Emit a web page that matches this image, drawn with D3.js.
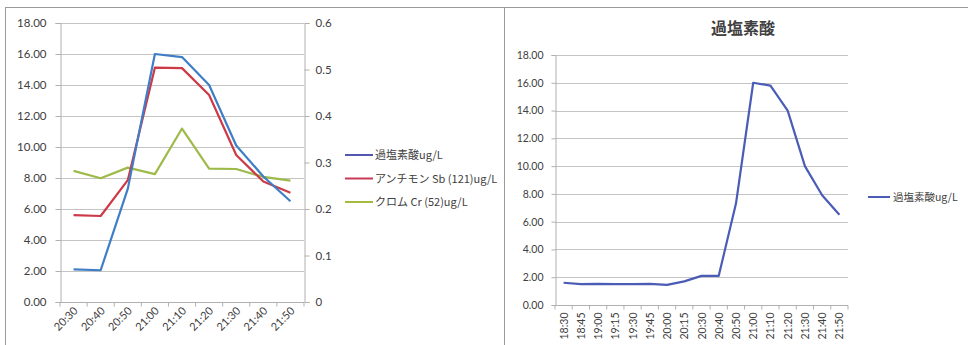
<!DOCTYPE html>
<html>
<head>
<meta charset="utf-8">
<script src="https://cdn.jsdelivr.net/npm/d3@7/dist/d3.min.js"></script>
<style>
  html, body { margin: 0; padding: 0; background: #ffffff; }
  svg { display: block; }
  text { font-family: Lato, "Noto Sans CJK JP", sans-serif; fill: #404040; }
  .cjk { font-family: "Noto Sans CJK JP", Lato, sans-serif; }
</style>
</head>
<body>
<svg id="chart" width="968" height="345"></svg>
<script>
// ---- data ----
// Panel A: three analytes, 20:30 – 21:50
const timesA = ["20:30", "20:40", "20:50", "21:00", "21:10", "21:20", "21:30", "21:40", "21:50"];
const perchlorateA = [2.1, 2.05, 7.3, 16.0, 15.8, 14.0, 10.1, 8.1, 6.5];          // left axis
const antimonyA = [0.187, 0.185, 0.262, 0.504, 0.503, 0.445, 0.316, 0.259, 0.235]; // right axis
const chromiumA = [0.282, 0.266, 0.289, 0.275, 0.373, 0.287, 0.286, 0.269, 0.261];  // right axis
const leftTicksA = [0, 2, 4, 6, 8, 10, 12, 14, 16, 18];
const rightTicksA = [0, 0.1, 0.2, 0.3, 0.4, 0.5, 0.6];
const seriesNamesA = ["過塩素酸ug/L", "アンチモン Sb (121)ug/L", "クロム Cr (52)ug/L"];

// Panel B: perchlorate only, 18:30 – 21:50
const timesB = ["18:30", "18:45", "19:00", "19:15", "19:30", "19:45", "20:00", "20:15", "20:30",
                "20:40", "20:50", "21:00", "21:10", "21:20", "21:30", "21:40", "21:50"];
const perchlorateB = [1.6, 1.5, 1.52, 1.5, 1.5, 1.52, 1.45, 1.7, 2.1,
                      2.1, 7.3, 16.0, 15.8, 14.0, 10.0, 7.9, 6.5];
const ticksB = [0, 2, 4, 6, 8, 10, 12, 14, 16, 18];
const titleB = "過塩素酸";
const seriesNameB = "過塩素酸ug/L";

const svg = d3.select("#chart");
const gridColor = "#c4c4c4";
const axisColor = "#b0b0b0";

// panel frames
svg.append("rect").attr("x", 5.5).attr("y", 7.5).attr("width", 499).attr("height", 345)
  .attr("fill", "none").attr("stroke", "#9a9a9a");
svg.append("rect").attr("x", 504.5).attr("y", 7.5).attr("width", 470).attr("height", 345)
  .attr("fill", "none").attr("stroke", "#9a9a9a");

// ================= Panel A =================
(function () {
  const x0 = 60, x1 = 304, yTop = 23, yBot = 302;
  const x = d3.scaleBand().domain(timesA).range([x0, x1]);
  const yL = d3.scaleLinear().domain([0, 18]).range([yBot, yTop]);
  const yR = d3.scaleLinear().domain([0, 0.6]).range([yBot, yTop]);
  const g = svg.append("g");

  // gridlines
  g.append("g").selectAll("line").data(leftTicksA.filter(d => d > 0)).join("line")
    .attr("x1", x0).attr("x2", x1)
    .attr("y1", d => Math.round(yL(d)) + 0.5).attr("y2", d => Math.round(yL(d)) + 0.5)
    .attr("stroke", gridColor);

  // left axis
  const axL = d3.axisLeft(yL).tickValues(leftTicksA).tickFormat(d3.format(".2f")).tickSize(5).tickPadding(9);
  const gl = g.append("g").attr("transform", `translate(${x0 + 0.5},0)`).call(axL);
  gl.select(".domain").attr("stroke", axisColor);
  gl.selectAll(".tick line").attr("stroke", axisColor);
  gl.selectAll("text").attr("font-size", 11.5).attr("fill", "#404040");

  // right axis
  const axR = d3.axisRight(yR).tickValues(rightTicksA).tickFormat(d => d === 0 ? "0" : d3.format(".1f")(d)).tickSize(5).tickPadding(6);
  const gr = g.append("g").attr("transform", `translate(${x1 + 0.5},0)`).call(axR);
  gr.select(".domain").attr("stroke", axisColor);
  gr.selectAll(".tick line").attr("stroke", axisColor);
  gr.selectAll("text").attr("font-size", 11.5).attr("fill", "#404040");

  // bottom axis
  const gb = g.append("g").attr("transform", `translate(0,${yBot + 0.5})`);
  gb.append("line").attr("x1", x0).attr("x2", x1).attr("stroke", axisColor);
  gb.selectAll("line.tk").data(d3.range(timesA.length + 1)).join("line").attr("class", "tk")
    .attr("x1", i => x0 + i * x.bandwidth()).attr("x2", i => x0 + i * x.bandwidth())
    .attr("y1", 0).attr("y2", 4).attr("stroke", axisColor);
  gb.selectAll("text").data(timesA).join("text")
    .attr("transform", d => `translate(${x(d) + x.bandwidth() / 2 + 5},${9}) rotate(-45)`)
    .attr("text-anchor", "end").attr("font-size", 11).attr("fill", "#404040")
    .text(d => d);

  const cx = d => x(d) + x.bandwidth() / 2;
  const colors = ["#3f7ec6", "#cc3a47", "#9dba4a"];
  const lineL = d3.line().x((d, i) => cx(timesA[i])).y(d => yL(d));
  const lineR = d3.line().x((d, i) => cx(timesA[i])).y(d => yR(d));

  g.append("path").datum(chromiumA).attr("d", lineR).attr("fill", "none")
    .attr("stroke", colors[2]).attr("stroke-width", 2.2).attr("stroke-linejoin", "round");
  g.append("path").datum(antimonyA).attr("d", lineR).attr("fill", "none")
    .attr("stroke", colors[1]).attr("stroke-width", 2.2).attr("stroke-linejoin", "round");
  g.append("path").datum(perchlorateA).attr("d", lineL).attr("fill", "none")
    .attr("stroke", colors[0]).attr("stroke-width", 2.2).attr("stroke-linejoin", "round");

  // legend
  const lg = g.append("g");
  const legendColors = ["#5258ae", "#c83a55", "#a4bb3e"];
  seriesNamesA.forEach((name, i) => {
    const yy = 155 + i * 23.5;
    lg.append("line").attr("x1", 345).attr("x2", 373).attr("y1", yy).attr("y2", yy)
      .attr("stroke", legendColors[i]).attr("stroke-width", 2);
    lg.append("text").attr("class", "cjk").attr("x", 375).attr("y", yy + 4)
      .attr("font-size", 11).attr("fill", "#505050").text(name);
  });
})();

// ================= Panel B =================
(function () {
  const x0 = 555, x1 = 848, yTop = 55, yBot = 305;
  const x = d3.scaleBand().domain(timesB).range([x0, x1]);
  const y = d3.scaleLinear().domain([0, 18]).range([yBot, yTop]);
  const g = svg.append("g");

  g.append("text").attr("class", "cjk").attr("x", 743).attr("y", 34)
    .attr("text-anchor", "middle").attr("font-size", 16).attr("font-weight", "bold")
    .attr("fill", "#333").text(titleB);

  g.append("g").selectAll("line").data(ticksB.filter(d => d > 0)).join("line")
    .attr("x1", x0).attr("x2", x1)
    .attr("y1", d => Math.round(y(d)) + 0.5).attr("y2", d => Math.round(y(d)) + 0.5)
    .attr("stroke", gridColor);

  const axL = d3.axisLeft(y).tickValues(ticksB).tickFormat(d3.format(".2f")).tickSize(4).tickPadding(8);
  const gl = g.append("g").attr("transform", `translate(${x0 + 0.5},0)`).call(axL);
  gl.select(".domain").attr("stroke", axisColor);
  gl.selectAll(".tick line").attr("stroke", axisColor);
  gl.selectAll("text").attr("font-size", 10.5).attr("fill", "#404040");

  const gb = g.append("g").attr("transform", `translate(0,${yBot + 0.5})`);
  gb.append("line").attr("x1", x0).attr("x2", x1).attr("stroke", axisColor);
  gb.selectAll("line.tk").data(d3.range(timesB.length + 1)).join("line").attr("class", "tk")
    .attr("x1", i => x0 + i * x.bandwidth()).attr("x2", i => x0 + i * x.bandwidth())
    .attr("y1", 0).attr("y2", 4).attr("stroke", axisColor);
  gb.selectAll("text").data(timesB).join("text")
    .attr("transform", d => `translate(${x(d) + x.bandwidth() / 2 + 4},${7}) rotate(-90)`)
    .attr("text-anchor", "end").attr("font-size", 10.5).attr("fill", "#404040")
    .text(d => d);

  const cx = d => x(d) + x.bandwidth() / 2;
  const line = d3.line().x((d, i) => cx(timesB[i])).y(d => y(d));
  g.append("path").datum(perchlorateB).attr("d", line).attr("fill", "none")
    .attr("stroke", "#4a5cb6").attr("stroke-width", 2.2).attr("stroke-linejoin", "round");

  g.append("line").attr("x1", 868).attr("x2", 890).attr("y1", 197).attr("y2", 197)
    .attr("stroke", "#4a5cb6").attr("stroke-width", 2);
  g.append("text").attr("class", "cjk").attr("x", 893).attr("y", 201)
    .attr("font-size", 10.5).attr("fill", "#505050").text(seriesNameB);
})();
</script>
</body>
</html>
